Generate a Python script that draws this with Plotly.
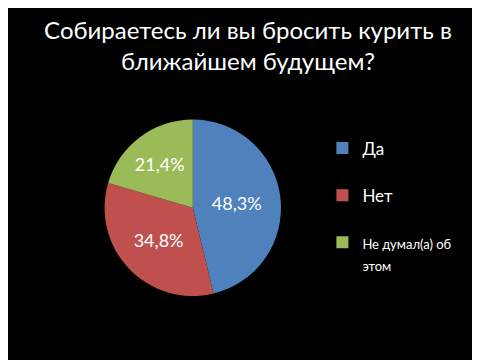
import plotly.graph_objects as go

labels = ["Да", "Нет", "Не думал(а) об этом"]
values = [48.3, 34.8, 21.4]
value_text = ["48,3%", "34,8%", "21,4%"]
colors = ["#4F81BD", "#C0504D", "#9BBB59"]

legend_names = [
    "Да<br> ",
    "Нет<br> ",
    "<span style='font-size:13px'>Не думал(а) об<br>этом</span>",
]

fig = go.Figure(go.Pie(
    labels=legend_names,
    values=values,
    text=value_text,
    textinfo="text",
    textposition="inside",
    insidetextorientation="horizontal",
    textfont=dict(color="white", size=18, family="Lato"),
    marker=dict(colors=colors, line=dict(width=0)),
    sort=False,
    direction="clockwise",
    rotation=0,
    domain=dict(x=[0.16, 0.61], y=[0.2, 0.69]),
    hoverinfo="skip",
))

fig.update_layout(
    width=480, height=360,
    paper_bgcolor="black", plot_bgcolor="black",
    margin=dict(l=0, r=0, t=0, b=0),
    title=dict(
        text="Собираетесь ли вы бросить курить в<br>ближайшем будущем?",
        x=0.5, xanchor="center", y=0.915, yanchor="top",
        font=dict(color="white", size=24, family="Lato"),
    ),
    legend=dict(
        x=0.655, y=0.66, xanchor="left", yanchor="top",
        font=dict(color="white", size=17, family="Lato"),
        valign="top",
        bgcolor="rgba(0,0,0,0)",
    ),
    showlegend=True,
)

fig.write_html("out.html")
